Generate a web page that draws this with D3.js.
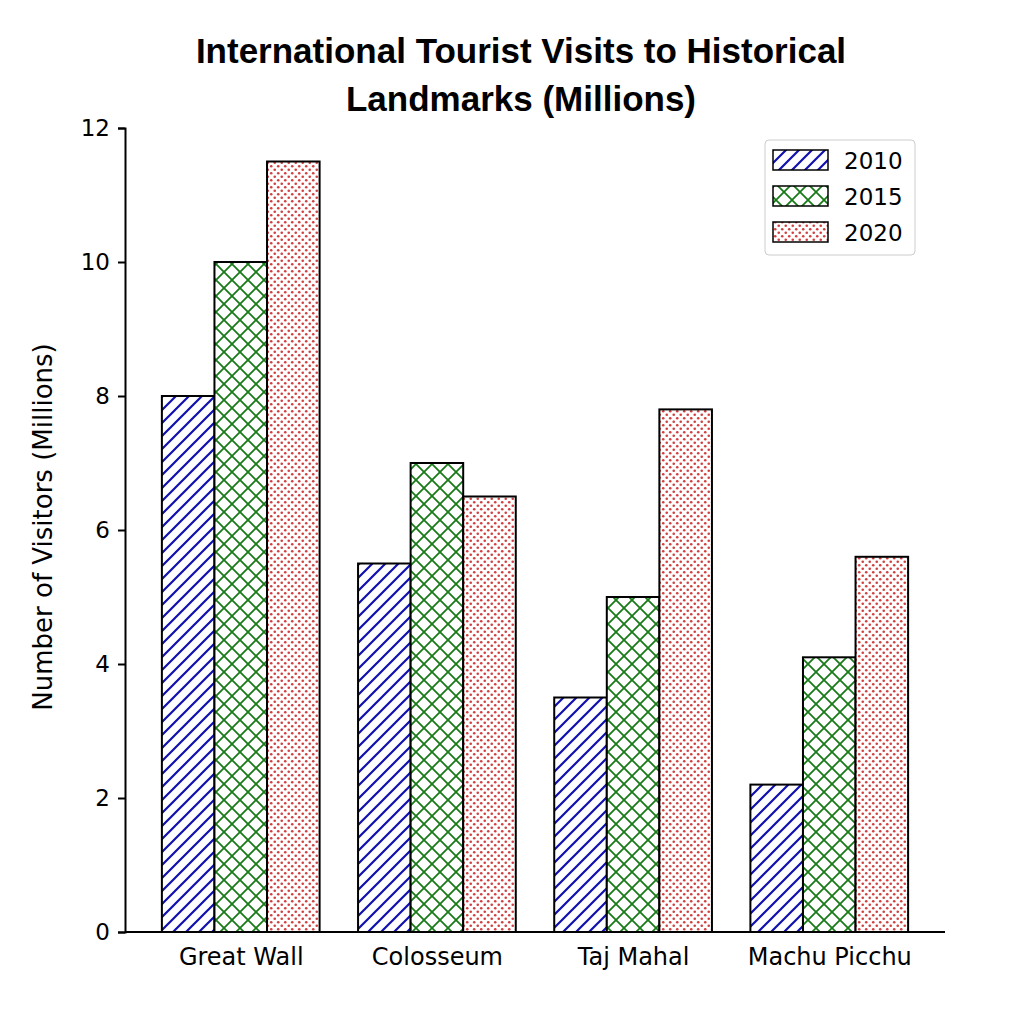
<!DOCTYPE html><html><head><script src="https://cdn.jsdelivr.net/npm/d3@7"></script>
<style>body{margin:0;background:#fff}</style></head><body><svg id="c" width="1024" height="1024"></svg>
<script>
const categories=["Great Wall","Colosseum","Taj Mahal","Machu Picchu"];
const series=["2010","2015","2020"];
const v2010=[8,5.5,3.5,2.2];
const v2015=[10,7,5,4.1];
const v2020=[11.5,6.5,7.8,5.6];
const yTicks=[0,2,4,6,8,10,12];
const values=[v2010,v2015,v2020];
const svg=d3.select("#c");
const defs=svg.append("defs");
let p=defs.append("pattern").attr("id","p0").attr("patternUnits","userSpaceOnUse").attr("width",13).attr("height",13);
p.append("rect").attr("width",13).attr("height",13).attr("fill","#fff");
p.append("path").attr("d","M-3,3 L3,-3 M0,13 L13,0 M10,16 L16,10").attr("stroke","#1010b0").attr("stroke-width",2.2);
p=defs.append("pattern").attr("id","p1").attr("patternUnits","userSpaceOnUse").attr("width",16).attr("height",16);
p.append("rect").attr("width",16).attr("height",16).attr("fill","#fff");
p.append("path").attr("d","M0,0 L16,16 M0,16 L16,0 M-4,4 L4,-4 M12,20 L20,12 M-4,12 L4,20 M12,-4 L20,4").attr("stroke","#1a7a1a").attr("stroke-width",1.8);
p=defs.append("pattern").attr("id","p2").attr("patternUnits","userSpaceOnUse").attr("width",7).attr("height",7);
p.append("rect").attr("width",7).attr("height",7).attr("fill","#fff");
p.append("circle").attr("cx",1.75).attr("cy",1.75).attr("r",1.3).attr("fill","#d04040");
p.append("circle").attr("cx",5.25).attr("cy",5.25).attr("r",1.3).attr("fill","#d04040");
const x=d3.scaleLinear().domain([-0.59,3.59]).range([125,945]);
const y=d3.scaleLinear().domain([0,12]).range([932,128]);
const bw=0.268;
values.forEach((vals,si)=>{
  svg.append("g").selectAll("rect").data(vals).join("rect")
   .attr("x",(d,i)=>x(i+(si-1)*bw-bw/2)).attr("width",x(bw)-x(0))
   .attr("y",d=>y(d)).attr("height",d=>y(0)-y(d))
   .attr("fill",`url(#p${si})`).attr("stroke","#000").attr("stroke-width",2);
});
const ya=svg.append("g").attr("transform","translate(125,0)").call(d3.axisLeft(y).tickValues(yTicks).tickSize(7).tickPadding(8));
const xa=svg.append("g").attr("transform","translate(0,932)").call(d3.axisBottom(x).tickValues([0,1,2,3]).tickFormat(i=>categories[i]).tickSize(0).tickPadding(16));
[ya,xa].forEach(a=>{a.attr("font-size",null);a.selectAll("text").attr("font-family","DejaVu Sans").style("font-size","23px").attr("fill","#000");a.selectAll("line,path").attr("stroke","#000").attr("stroke-width",2);});
xa.selectAll("text").style("font-size","24px");
xa.select(".domain").attr("d","M125,0H945");
svg.append("text").attr("transform","translate(52,527) rotate(-90)").attr("text-anchor","middle").attr("font-family","DejaVu Sans").style("font-size","26px").text("Number of Visitors (Millions)");
const tt=["International Tourist Visits to Historical","Landmarks (Millions)"];
tt.forEach((t,i)=>svg.append("text").attr("x",521).attr("y",63+i*48).attr("text-anchor","middle").attr("font-family","Liberation Sans").attr("font-weight","bold").style("font-size","35px").text(t));
const lg=svg.append("g");
lg.append("rect").attr("x",765).attr("y",140).attr("width",150).attr("height",115).attr("rx",4).attr("fill","#fff").attr("stroke","#ccc");
series.forEach((s,i)=>{
  lg.append("rect").attr("x",773).attr("y",150+i*36).attr("width",55).attr("height",20).attr("fill",`url(#p${i})`).attr("stroke","#000").attr("stroke-width",1.5);
  lg.append("text").attr("x",844).attr("y",169+i*36).attr("font-family","DejaVu Sans").style("font-size","23px").text(s);
});
</script></body></html>
